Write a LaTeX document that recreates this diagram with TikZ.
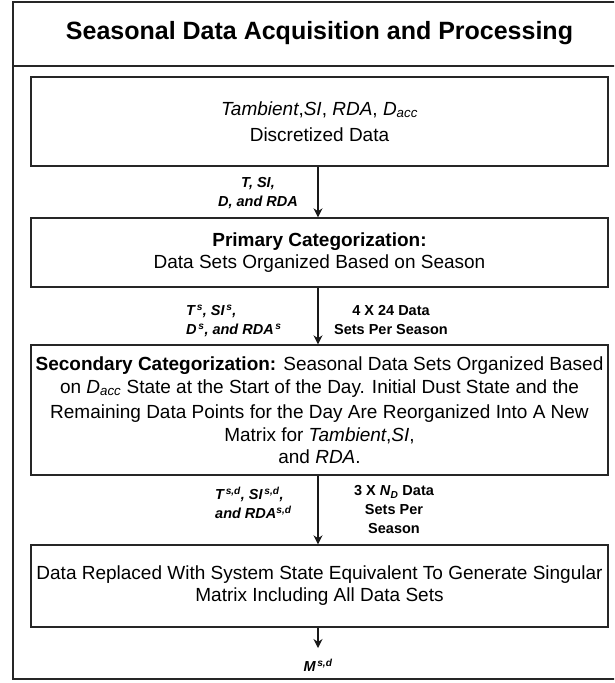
\documentclass[tikz,border=0pt]{standalone}
\usepackage{fontspec}
\setmainfont{Liberation Sans}
\usetikzlibrary{arrows.meta}
\begin{document}
\begin{tikzpicture}[x=1pt,y=-1pt,
  frameline/.style={draw=black!85,line width=1.4pt},
  stage/.style={draw=black!85,line width=1.4pt,minimum width=577pt,inner sep=0pt,
    align=center,font=\fontsize{19}{23}\selectfont},
  flow/.style={draw=black!90,line width=1.2pt,-{Stealth[length=9pt,width=9pt]}},
  varlabel/.style={font=\fontsize{14.5}{19}\selectfont\bfseries\itshape,inner sep=0pt},
  countlabel/.style={font=\fontsize{14.5}{19}\selectfont\bfseries,inner sep=0pt,align=center}]

\useasboundingbox (0,0) rectangle (614,683);

% outer frame with title band (runs past the right edge)
\begin{scope}
  \clip (0,0) rectangle (614,683);
  \draw[frameline] (13,2) rectangle (630,679);
  \draw[frameline] (13,66) -- (630,66);
\end{scope}

\node[font=\fontsize{25}{30}\selectfont\bfseries] (title) at (319.5,33)
  {Seasonal Data Acquisition and Processing};

% processing stages
\node[stage,minimum height=89pt] (raw) at (319.5,121.5)
  {\textit{Tambient},\textit{SI}, \textit{RDA}, \textit{D}\textsubscript{\textit{acc}}\\[3pt]
   Discretized Data};

\node[stage,minimum height=69pt] (primary) at (319.5,252.5)
  {\textbf{Primary Categorization:}\\[-1pt]
   Data Sets Organized Based on Season};

\node[stage,minimum height=130pt] (secondary) at (319.5,410)
  {\textbf{Secondary Categorization:} Seasonal Data Sets Organized Based\\
   on \textit{D}\textsubscript{\textit{acc}} State at the Start of the Day. Initial Dust State and the\\[2pt]
   Remaining Data Points for the Day Are Reorganized Into A New\\
   Matrix for \textit{Tambient},\textit{SI},\\[-1pt]
   and \textit{RDA}.};

\node[stage,minimum height=82pt] (merge) at (319.5,586)
  {Data Replaced With System State Equivalent To Generate Singular\\[-1pt]
   Matrix Including All Data Sets};

\coordinate (out) at (318,648);

% connectors
\draw[flow] ([xshift=-1.5pt]raw.south) -- ([xshift=-1.5pt]primary.north);
\draw[flow] ([xshift=-1.5pt]primary.south) -- ([xshift=-1.5pt]secondary.north);
\draw[flow] ([xshift=-1.5pt]secondary.south) -- ([xshift=-1.5pt]merge.north);
\draw[flow] ([xshift=-1.5pt]merge.south) -- (out);

% connector labels
\node[varlabel,align=center] (lab1) at (258,193) {T, SI,\\D, and RDA};

\node[varlabel,align=left,anchor=west] (lab2) at (186,321)
  {T\textsuperscript{\,s}, SI\textsuperscript{\,s},\\D\textsuperscript{\,s}, and RDA\textsuperscript{\,s}};
\node[countlabel] (cnt2) at (391,320) {4 X 24 Data\\Sets Per Season};

\node[varlabel,align=left,anchor=west] (lab3) at (215,503)
  {T\textsuperscript{\,s,d}, SI\textsuperscript{\,s,d},\\and RDA\textsuperscript{s,d}};
\node[countlabel] (cnt3) at (394,510) {3 X \textit{N}\textsubscript{\textit{D}} Data\\Sets Per\\Season};

\node[varlabel] (result) at (318,665) {M\textsuperscript{\,s,d}};

\end{tikzpicture}
\end{document}
